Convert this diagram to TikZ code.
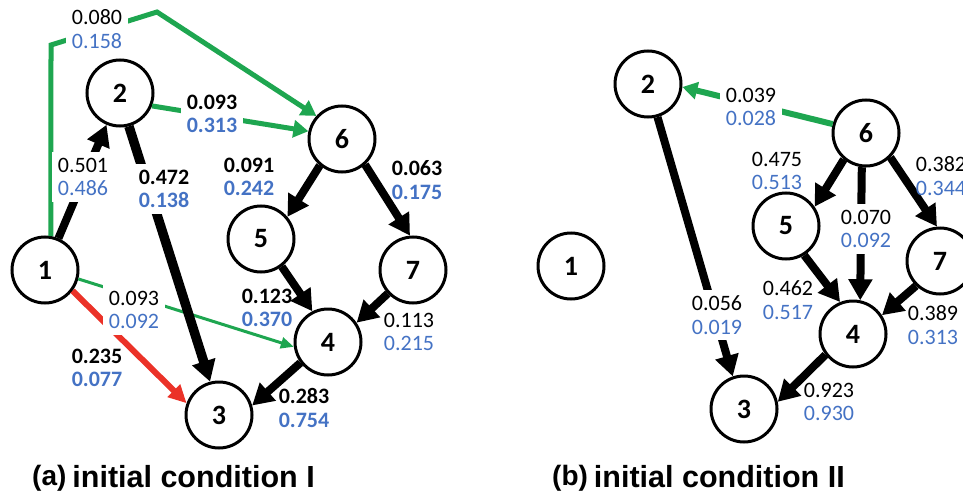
\documentclass[tikz,border=0pt]{standalone}
\usepackage{fontspec}
\setmainfont{Carlito}
\newfontfamily\capfont{Liberation Sans}
\usetikzlibrary{arrows.meta}
\definecolor{wgreen}{RGB}{30,166,80}
\definecolor{wred}{RGB}{235,50,40}
\definecolor{wblue}{RGB}{68,114,196}
\newcommand{\wts}[2]{#1\\\textcolor{wblue}{#2}}
\begin{document}
\begin{tikzpicture}[x=1pt,y=-1pt,
	state/.style={circle,draw,line width=3pt,fill=white,minimum size=66pt,inner sep=0pt,font=\fontsize{28}{28}\selectfont\bfseries},
	wlab/.style={align=left,inner sep=1pt,font=\fontsize{22}{23.5}\selectfont},
	bwlab/.style={wlab,font=\fontsize{22}{23.5}\selectfont\bfseries},
	gap/.style={fill=white,inner sep=6pt},
	flow/.style={line width=8pt,-{Triangle[length=21pt,width=23pt]}},
	gflow/.style={wgreen,line width=5pt,-{Triangle[length=15pt,width=17pt]}},
	tflow/.style={wgreen,line width=3pt,-{Triangle[length=13pt,width=11pt]}},
	rflow/.style={wred,line width=6pt,-{Triangle[length=18pt,width=17pt]}},
	caption/.style={anchor=base west,inner sep=0pt,font=\capfont\bfseries}]
	\path[use as bounding box,clip] (0,0) rectangle (963,492);
	% (a) initial condition I
	\node[state] (a1) at (45,270) {1};
	\node[state] (a2) at (120,93) {2};
	\node[state] (a3) at (219,415) {3};
	\node[state] (a4) at (328,342) {4};
	\node[state] (a5) at (261,239) {5};
	\node[state] (a6) at (342,139) {6};
	\node[state] (a7) at (413,270) {7};
	\coordinate (c1) at (51,45);
	\coordinate (c2) at (157,12);
	\draw[gflow] (a1.80) -- (c1) -- (c2) -- (a6.138); %1 -> 6
	\draw[gflow] (a2.-22) -- (a6.167);
	\draw[tflow] (a1.-15) -- (a4.188);
	\draw[rflow] (a1.-37) -- (a3.160);
	\draw[flow] (a1) -- (a2);
	\draw[flow,line width=9.5pt] (a2.-75) -- (a3.105);
	\draw[flow] (a6.230) -- (a5.40);
	\draw[flow] (a6.-48) -- (a7.95);
	\draw[flow] (a5.-53) -- (a4.117);
	\draw[flow] (a7.223) -- (a4.34);
	\draw[flow] (a4.217) -- (a3.16);
	\node[wlab,gap] (l16) at (97,29) {\wts{0.080}{0.158}};
	\node[bwlab,gap] (l26) at (212,114) {\wts{0.093}{0.313}};
	\node[wlab,gap] (l12) at (83,177) {\wts{0.501}{0.486}};
	\node[bwlab,gap] (l23) at (164,189) {\wts{0.472}{0.138}};
	\node[wlab,gap] (l14) at (134,310) {\wts{0.093}{0.092}};
	\node[bwlab] (l65) at (249,177) {\wts{0.091}{0.242}};
	\node[bwlab] (l67) at (417,180) {\wts{0.063}{0.175}};
	\node[bwlab] (l54) at (267,308) {\wts{0.123}{0.370}};
	\node[wlab] (l74) at (409,332) {\wts{0.113}{0.215}};
	\node[bwlab] (l13) at (97,368) {\wts{0.235}{0.077}};
	\node[bwlab] (l43) at (304,408) {\wts{0.283}{0.754}};
	\node[caption] (capa) at (32,487) {\raisebox{2pt}{\fontsize{28}{28}\selectfont (a)}\hspace{6pt}\fontsize{30.5}{30.5}\selectfont initial condition I};
	% (b) initial condition II
	\node[state] (b1) at (571,266) {1};
	\node[state] (b2) at (648,84) {2};
	\node[state] (b3) at (744,409) {3};
	\node[state] (b4) at (853,334) {4};
	\node[state] (b5) at (786,226) {5};
	\node[state] (b6) at (866,133) {6};
	\node[state] (b7) at (940,261) {7};
	\draw[gflow,line width=6pt] (b6.165) -- (b2.-5);
	\draw[flow] (b2.-74) -- (b3.109);
	\draw[flow] (b6.230) -- (b5.34);
	\draw[flow] (b6.263) -- (b4.78);
	\draw[flow] (b6.-45) -- (b7.95);
	\draw[flow] (b5.-58) -- (b4.112);
	\draw[flow] (b7.226) -- (b4.33);
	\draw[flow] (b4.217) -- (b3.12);
	\node[wlab,gap] (m62) at (751,107) {\wts{0.039}{0.028}};
	\node[wlab,gap] (m23) at (717,315) {\wts{0.056}{0.019}};
	\node[wlab,gap] (m64) at (866,229) {\wts{0.070}{0.092}};
	\node[wlab] (m65) at (777,171) {\wts{0.475}{0.513}};
	\node[wlab] (m67) at (941,176) {\wts{0.382}{0.344}};
	\node[wlab] (m54) at (788,300) {\wts{0.462}{0.517}};
	\node[wlab] (m74) at (933,325) {\wts{0.389}{0.313}};
	\node[wlab] (m43) at (829,402) {\wts{0.923}{0.930}};
	\node[caption] (capb) at (552,487) {\raisebox{2pt}{\fontsize{28}{28}\selectfont (b)}\hspace{6pt}\fontsize{30.5}{30.5}\selectfont initial condition II};
\end{tikzpicture}
\end{document}
